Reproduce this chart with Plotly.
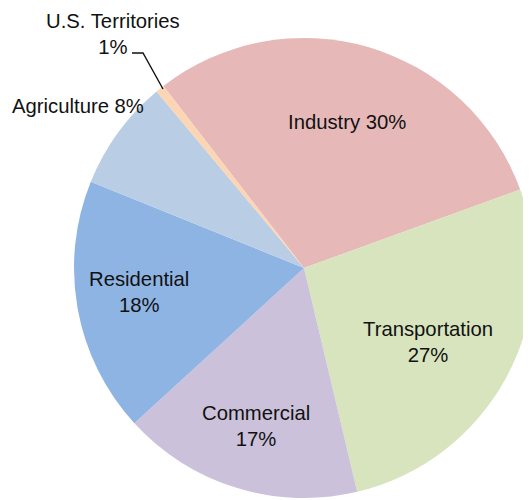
import plotly.graph_objects as go

# Data (share of total, %)
sectors = ["Industry", "Transportation", "Commercial", "Residential", "Agriculture", "U.S. Territories"]
shares = [29.9, 26.8, 16.9, 17.9, 7.8, 0.6]
colors = ["#E6B9B8", "#D7E4BD", "#CCC1DA", "#8EB4E3", "#B9CDE5", "#FCD5B5"]

# page body has an 8px margin
OFF = 8
W, H = 531, 500
total = sum(shares)
pct = {s: f"{round(v / total * 100)}%" for s, v in zip(sectors, shares)}

# pie centre at (304,268) in window pixels, radius 230
cx, cy, R = 304 - OFF, 268 - OFF, 230
fig = go.Figure(go.Pie(
    labels=sectors,
    values=shares,
    marker=dict(colors=colors, line=dict(width=0)),
    sort=False,
    direction="clockwise",
    rotation=-37.7,
    textinfo="none",
    hoverinfo="label+percent",
    showlegend=False,
    domain=dict(x=[(cx - R) / W, (cx + R) / W],
                y=[1 - (cy + R + 2) / H, 1 - (cy - R - 2) / H]),
))

FONT = dict(family="Liberation Sans, Arial, sans-serif", size=20.3, color="#111111")

# label text placement (window pixel centres)
label_pos = {
    "Industry": (347, 122, " "),
    "Transportation": (428, 342, "<br>"),
    "Commercial": (256, 426, "<br>"),
    "Residential": (139, 292, "<br>"),
    "Agriculture": (78, 106, " "),
    "U.S. Territories": (113, 34, "<br>"),
}


def px2paper(x, y):
    return (x - OFF) / W, 1 - (y - OFF) / H


for s in sectors:
    x0, y0, sep = label_pos[s]
    xp, yp = px2paper(x0, y0)
    fig.add_annotation(
        x=xp, y=yp, xref="paper", yref="paper",
        text=f"{s}{sep}{pct[s]}", showarrow=False,
        xanchor="center", yanchor="middle", align="center",
        font=FONT,
    )


def p(x, y):
    a, b = px2paper(x, y)
    return f"{a:.5f},{b:.5f}"


# leader line for U.S. Territories
fig.add_shape(
    type="path", xref="paper", yref="paper",
    path=f"M {p(132, 53)} L {p(143, 53)} L {p(163, 89)}",
    line=dict(color="#111111", width=1.4),
)

fig.update_layout(
    width=W, height=H,
    margin=dict(l=0, r=0, t=0, b=0),
    paper_bgcolor="white",
    plot_bgcolor="white",
)

fig.write_html("out.html")
